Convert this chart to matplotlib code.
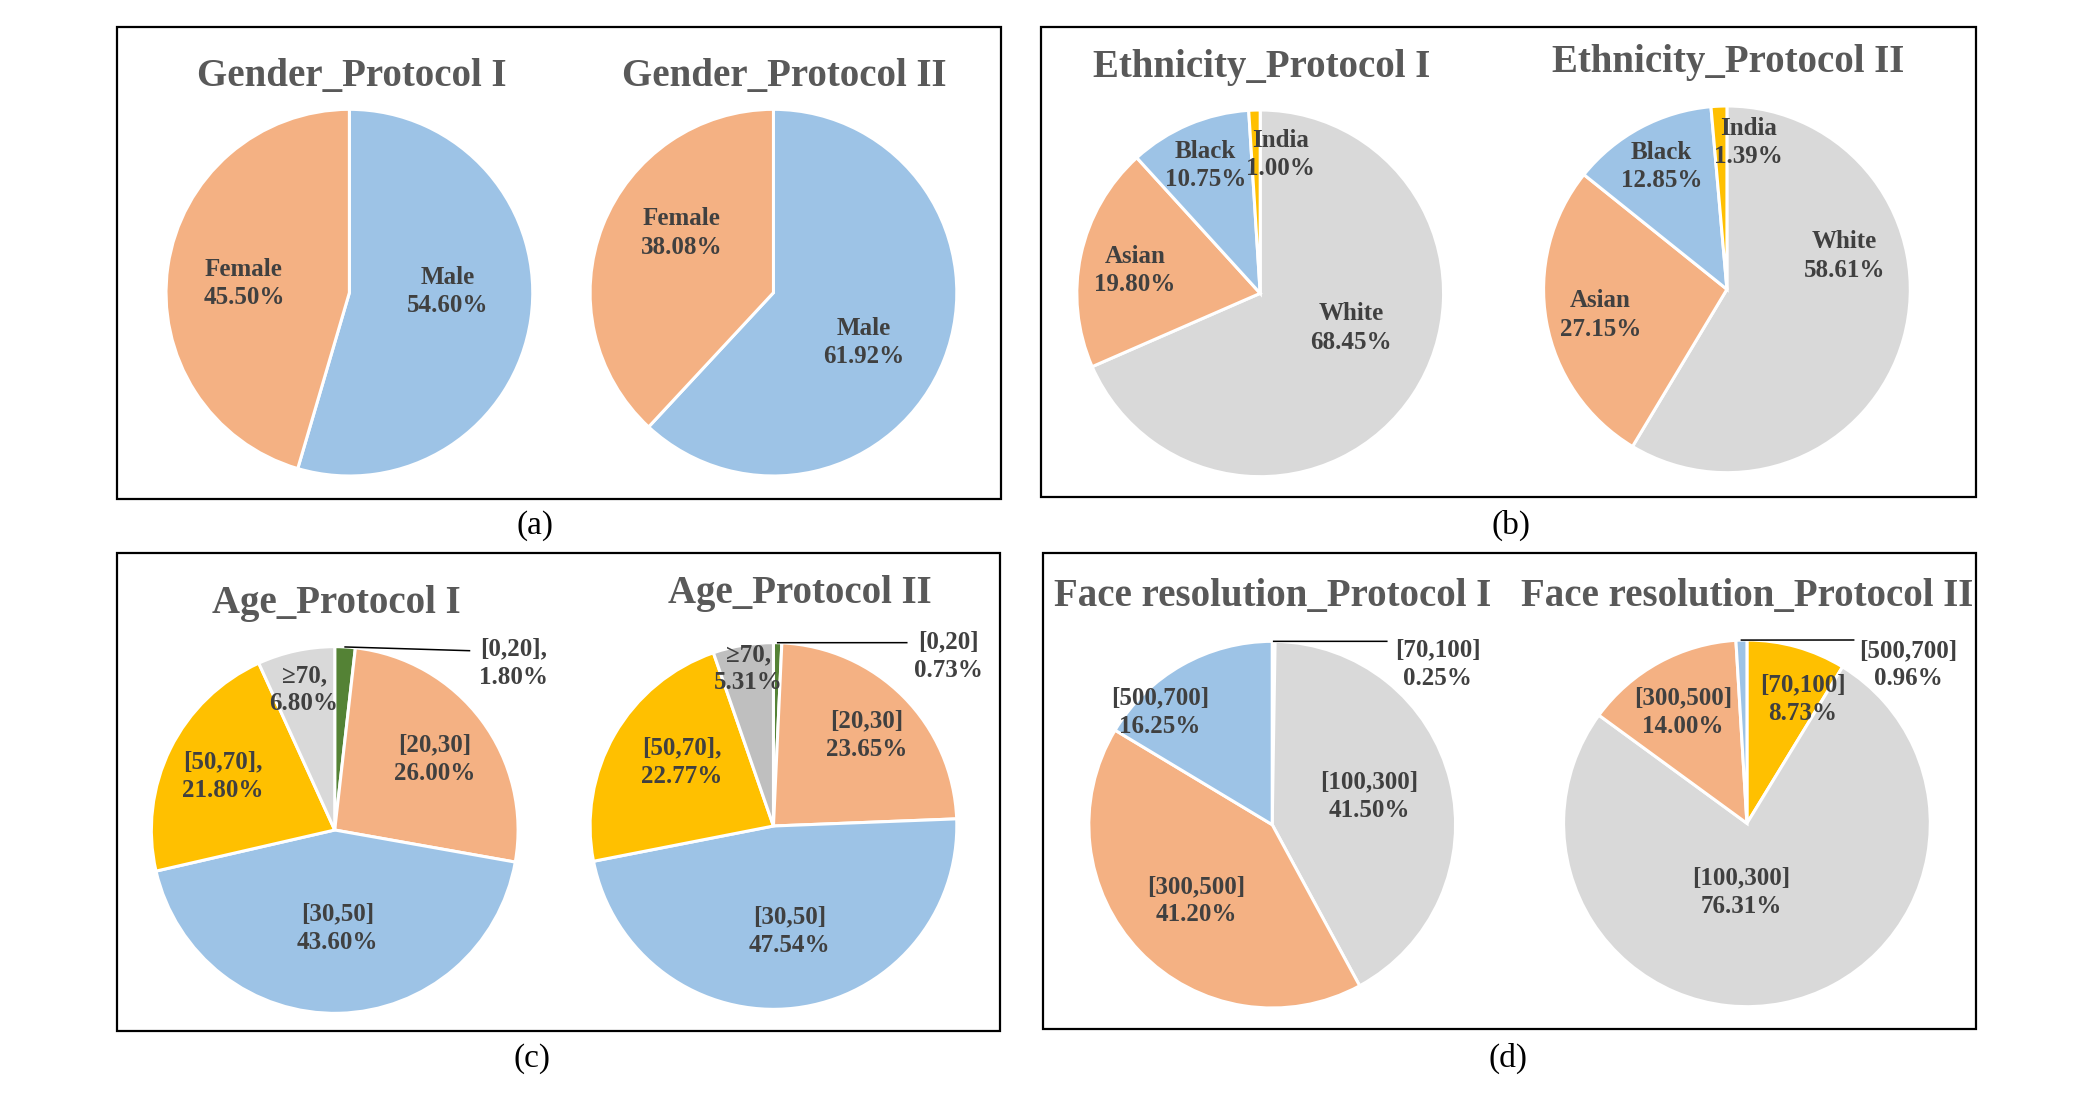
import numpy as np
import matplotlib
matplotlib.use('Agg')
import matplotlib.pyplot as plt
from matplotlib.patches import Rectangle

plt.rcParams['font.family'] = ['Liberation Serif', 'DejaVu Serif']

# ---- data (percentages, clockwise from 12 o'clock) ----
gender_labels = ['Male', 'Female']
gender_p1 = [54.60, 45.50]
gender_p2 = [61.92, 38.08]

eth_labels = ['White', 'Asian', 'Black', 'India']
eth_p1 = [68.45, 19.80, 10.75, 1.00]
eth_p2 = [58.61, 27.15, 12.85, 1.39]

age_labels = ['[0,20]', '[20,30]', '[30,50]', '[50,70]', '\u226570']
age_p1 = [1.80, 26.00, 43.60, 21.80, 6.80]
age_p2 = [0.73, 23.65, 47.54, 22.77, 5.31]

res_labels = ['[70,100]', '[100,300]', '[300,500]', '[500,700]']
res_p1 = [0.25, 41.50, 41.20, 16.25]
res_p2 = [8.73, 76.31, 14.00, 0.96]

# ---- style ----
BLUE = '#9DC3E6'
ORANGE = '#F4B183'
GRAY = '#D9D9D9'
GOLD = '#FFC000'
GREEN = '#548235'
DGRAY = '#BFBFBF'
TITLE_C = '#595959'
LABEL_C = '#404040'

# layout canvas (y measured downwards), 1 unit = 1.3335 px
W, H = 1568, 825
R = 137.5

pies = [
    dict(title='Gender_Protocol I', labels=gender_labels, values=gender_p1,
         colors=[BLUE, ORANGE], center=(262, 219.5), title_xy=(264, 57),
         offs=[(0.538, 0.005), (-0.575, 0.049)]),
    dict(title='Gender_Protocol II', labels=gender_labels, values=gender_p2,
         colors=[BLUE, ORANGE], center=(580, 219.5), title_xy=(588, 57),
         offs=[(0.495, -0.271), (-0.502, 0.325)]),
    dict(title='Ethnicity_Protocol I', labels=eth_labels, values=eth_p1,
         colors=[GRAY, ORANGE, BLUE, GOLD], center=(945, 220), title_xy=(946, 51),
         offs=[(0.495, -0.19), (-0.684, 0.123), (-0.298, 0.698), (0.109, 0.756)]),
    dict(title='Ethnicity_Protocol II', labels=eth_labels, values=eth_p2,
         colors=[GRAY, ORANGE, BLUE, GOLD], center=(1295, 217), title_xy=(1296, 47),
         offs=[(0.64, 0.181), (-0.691, -0.139), (-0.356, 0.669), (0.116, 0.8)]),
    dict(title='Age_Protocol I', labels=age_labels, values=age_p1,
         colors=[GREEN, ORANGE, BLUE, GOLD, GRAY], center=(251, 622.5), title_xy=(252, 453),
         offs=[(0.975, 0.91), (0.545, 0.386), (0.015, -0.537), (-0.611, 0.292), (-0.167, 0.765)],
         seps=[',\n', '\n', '\n', ',\n', ',\n'], leader=(0, 0.735, 0.978)),
    dict(title='Age_Protocol II', labels=age_labels, values=age_p2,
         colors=[GREEN, ORANGE, BLUE, GOLD, DGRAY], center=(580, 619.5), title_xy=(600, 445),
         offs=[(0.953, 0.925), (0.509, 0.495), (0.087, -0.574), (-0.502, 0.35), (-0.138, 0.859)],
         seps=['\n', '\n', '\n', ',\n', ',\n'], leader=(0, 0.727, 1.0)),
    dict(title='Face resolution_Protocol I', labels=res_labels, values=res_p1,
         colors=[GOLD, GRAY, ORANGE, BLUE], center=(954, 618.5), title_xy=(954, 447),
         offs=[(0.902, 0.874), (0.531, 0.154), (-0.415, -0.414), (-0.611, 0.612)],
         leader=(0, 0.625, 1.0)),
    dict(title='Face resolution_Protocol II', labels=res_labels, values=res_p2,
         colors=[GOLD, GRAY, ORANGE, BLUE], center=(1310, 617.5), title_xy=(1310, 447),
         offs=[(0.305, 0.677), (-0.029, -0.377), (-0.349, 0.605), (0.88, 0.866)],
         leader=(3, 0.582, 1.0)),
]

boxes = [(88, 20, 751, 374), (781, 20, 1482, 373), (88, 415, 750, 773), (782, 415, 1482, 772)]
panel_tags = [('(a)', 401, 394), ('(b)', 1133, 394), ('(c)', 399, 794), ('(d)', 1131, 794)]

fig = plt.figure(figsize=(20.91, 11), dpi=100)
ax = fig.add_axes([0, 0, 1, 1])

for p in pies:
    cx, cy = p['center'][0], H - p['center'][1]
    wedges, _ = ax.pie(p['values'], colors=p['colors'], startangle=90, counterclock=False,
                       center=(cx, cy), radius=R, frame=True,
                       wedgeprops=dict(edgecolor='white', linewidth=2.2))
    seps = p.get('seps') or ['\n'] * len(p['values'])
    for lab, val, sep, (dx, dy) in zip(p['labels'], p['values'], seps, p['offs']):
        ax.text(cx + dx * R, cy + dy * R, '{}{}{:.2f}%'.format(lab, sep, val),
                ha='center', va='center', fontsize=18, fontweight='bold',
                color=LABEL_C, linespacing=1.3)
    if p.get('leader'):
        i, ex, ey = p['leader']
        w = wedges[i]
        mid = np.deg2rad((w.theta1 + w.theta2) / 2)
        sx, sy = cx + R * np.cos(mid), cy + R * np.sin(mid)
        ax.plot([sx, cx + ex * R], [sy, cy + ey * R], color='black', lw=1.1)
    tx, ty = p['title_xy']
    ax.text(tx, H - ty, p['title'], ha='center', va='center', fontsize=28,
            fontweight='bold', color=TITLE_C)

for x0, y0, x1, y1 in boxes:
    ax.add_patch(Rectangle((x0, H - y1), x1 - x0, y1 - y0, fill=False,
                           edgecolor='black', linewidth=1.6))

for tag, x, y in panel_tags:
    ax.text(x, H - y, tag, ha='center', va='center', fontsize=24, color='black')

ax.set_xlim(0, W)
ax.set_ylim(0, H)
ax.set_aspect('auto')
ax.axis('off')

fig.savefig('out.png', dpi=100, facecolor='white')
